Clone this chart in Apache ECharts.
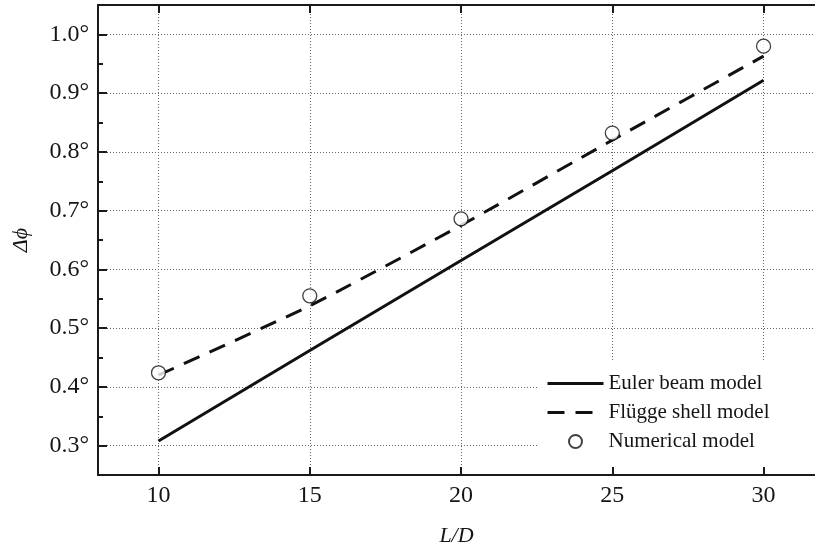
<!DOCTYPE html>
<html>
<head>
<meta charset="utf-8">
<script src="https://cdn.jsdelivr.net/npm/echarts@6/dist/echarts.min.js"></script>
<style>html,body{margin:0;padding:0;background:#fff}#c{width:815px;height:552px}</style>
</head>
<body>
<div id="c"></div>
<script>
const xValues = [10, 15, 20, 25, 30];
const eulerValues = [0.308, 0.462, 0.615, 0.768, 0.922];
const fluggeValues = [0.42, 0.538, 0.675, 0.82, 0.963];
const numericalValues = [0.424, 0.555, 0.686, 0.832, 0.980];
const xTicks = [10, 15, 20, 25, 30];
const yTicks = [0.3, 0.4, 0.5, 0.6, 0.7, 0.8, 0.9, 1.0];
const yMinorTicks = [0.35, 0.45, 0.55, 0.65, 0.75, 0.85, 0.95, 1.05];
const seriesNames = ['Euler beam model', 'Flügge shell model', 'Numerical model'];

const pairs = v => xValues.map((x, i) => [x, v[i]]);
const FONT = 'Liberation Serif';
const AX = '#1a1a1a';
const TXT = '#151515';
const noDot = {color: 'rgba(0,0,0,0)', borderColor: 'rgba(0,0,0,0)', borderWidth: 0};

const chart = echarts.init(document.getElementById('c'), null, {renderer: 'canvas'});
chart.setOption({
  backgroundColor: '#fff',
  animation: false,
  grid: {left: 98, right: 0, top: 5, bottom: 75},
  xAxis: [{
    type: 'value', min: 8, max: 31.7, position: 'bottom',
    name: 'L/D', nameLocation: 'middle', nameGap: 50,
    nameTextStyle: {fontFamily: FONT, fontStyle: 'italic', fontSize: 22, color: TXT},
    axisLine: {show: true, lineStyle: {color: AX, width: 2}},
    axisTick: {show: true, inside: true, length: 8, customValues: xTicks, lineStyle: {color: AX, width: 2}},
    axisLabel: {customValues: xTicks, fontFamily: FONT, fontSize: 24, color: TXT, margin: 9},
    splitLine: {show: true, lineStyle: {color: '#666', width: 1, type: [1, 2]}}
  }, {
    type: 'value', min: 8, max: 31.7, position: 'top',
    axisLine: {show: true, onZero: false, lineStyle: {color: AX, width: 2}},
    axisTick: {show: true, inside: true, length: 8, customValues: xTicks, lineStyle: {color: AX, width: 2}},
    axisLabel: {show: false},
    splitLine: {show: false}
  }],
  yAxis: [{
    type: 'value', min: 0.25, max: 1.05, position: 'left',
    name: 'Δϕ', nameLocation: 'middle', nameGap: 66,
    nameTextStyle: {fontFamily: FONT, fontStyle: 'italic', fontSize: 22, color: TXT},
    axisLine: {show: true, lineStyle: {color: AX, width: 2}},
    axisTick: {show: true, inside: true, length: 9, customValues: yTicks, lineStyle: {color: AX, width: 2}},
    axisLabel: {customValues: yTicks, fontFamily: FONT, fontSize: 24, color: TXT, margin: 9,
      formatter: v => Number(v).toFixed(1) + '°'},
    splitLine: {show: true, lineStyle: {color: '#666', width: 1, type: [1, 2]}}
  }, {
    type: 'value', min: 0.25, max: 1.05, position: 'left',
    axisLine: {show: false},
    axisTick: {show: true, inside: true, length: 5, customValues: yMinorTicks, lineStyle: {color: AX, width: 2}},
    axisLabel: {show: false},
    splitLine: {show: false}
  }],
  legend: {
    orient: 'vertical', left: 538, top: 360,
    padding: [13, 80, 14, 8],
    backgroundColor: '#fff',
    itemWidth: 56, itemHeight: 13, itemGap: 8,
    textStyle: {fontFamily: FONT, fontSize: 21, color: TXT, padding: [0, 0, 0, 0]},
    data: [
      {name: seriesNames[0], itemStyle: noDot, lineStyle: {width: 3, color: '#111'}},
      {name: seriesNames[1], itemStyle: noDot, lineStyle: {width: 3, color: '#111', type: [17, 11]}},
      {name: seriesNames[2], icon: 'circle'}
    ]
  },
  series: [{
    name: seriesNames[0], type: 'line', data: pairs(eulerValues),
    showSymbol: false, symbol: 'none',
    lineStyle: {color: '#111', width: 3}, itemStyle: {color: '#111'}
  }, {
    name: seriesNames[1], type: 'line', data: pairs(fluggeValues),
    showSymbol: false, symbol: 'none', smooth: 0.2,
    lineStyle: {color: '#111', width: 3, type: [17, 11]}, itemStyle: {color: '#111'}
  }, {
    name: seriesNames[2], type: 'scatter', data: pairs(numericalValues),
    symbol: 'circle', symbolSize: 14, z: 5,
    itemStyle: {color: '#fff', borderColor: '#111', borderWidth: 1.3}
  }]
});
</script>
</body>
</html>
